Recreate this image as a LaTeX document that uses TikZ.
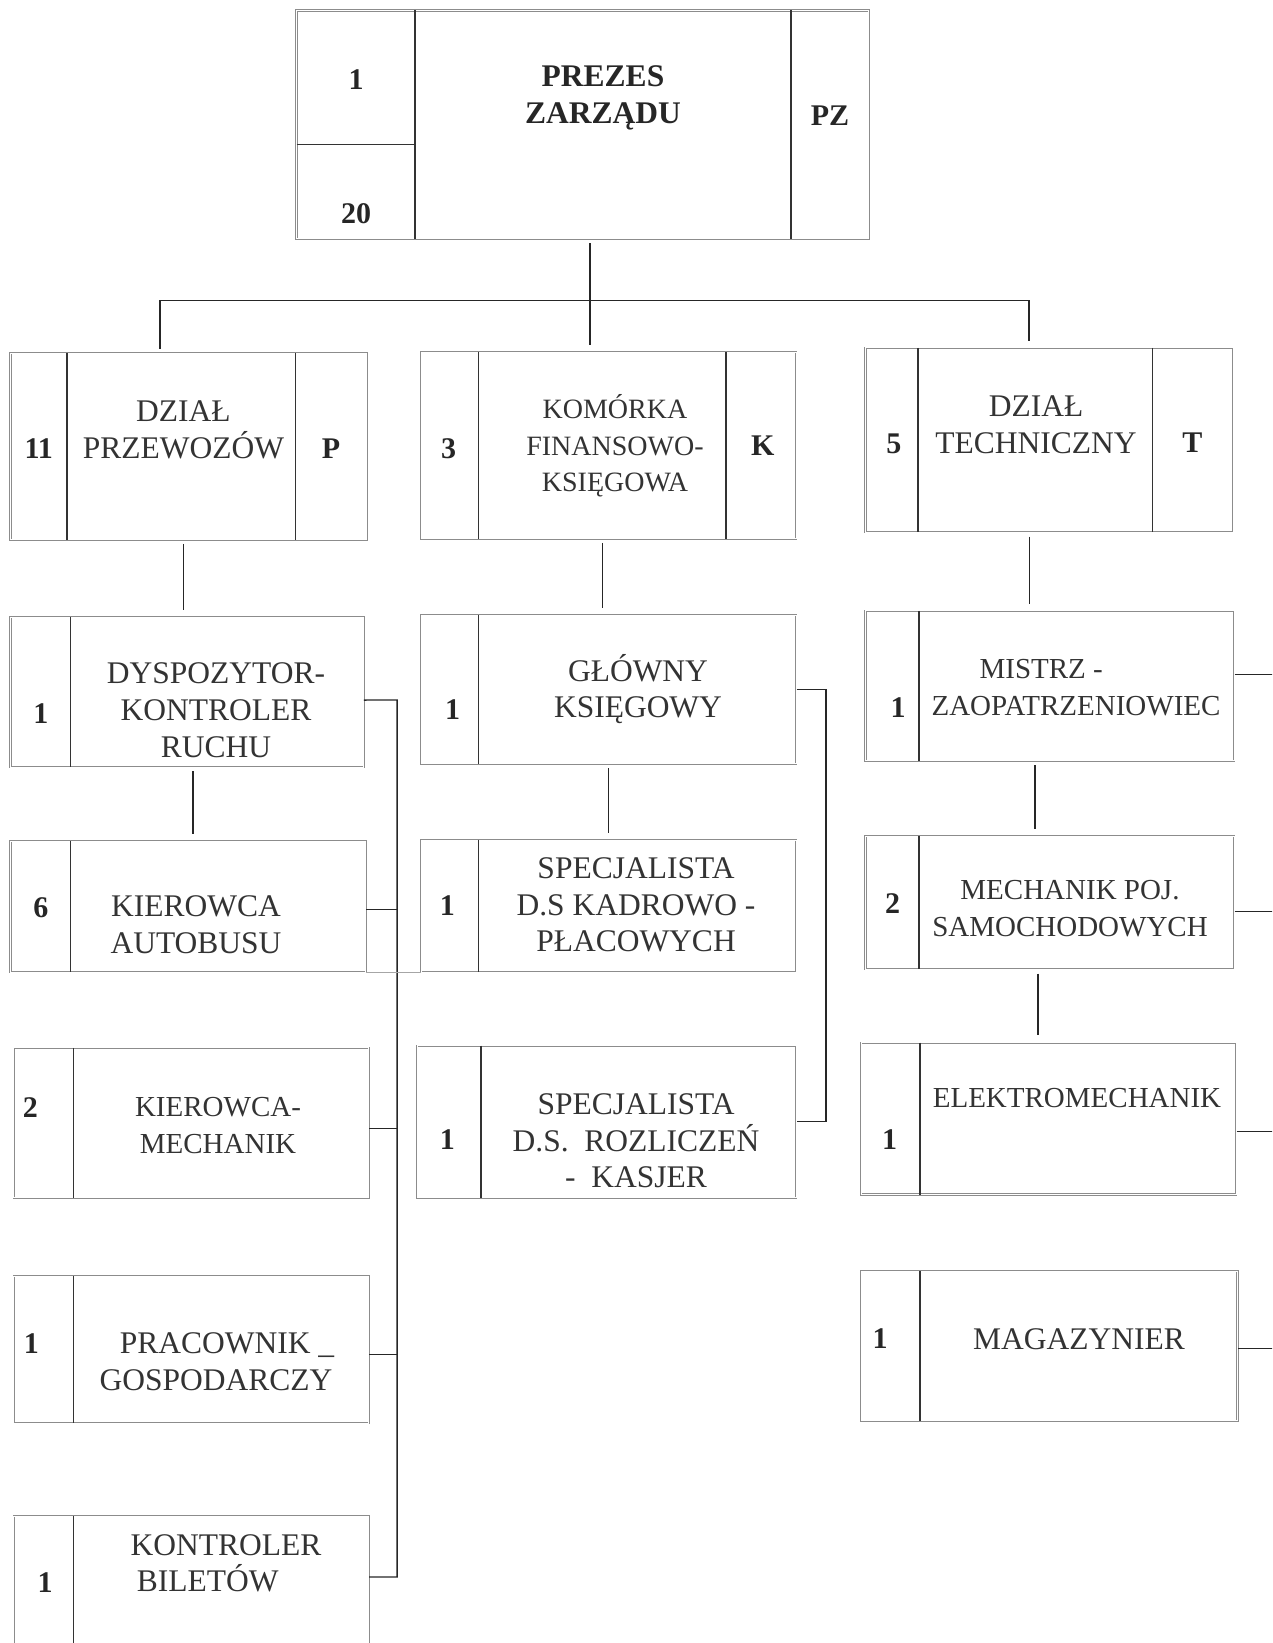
\documentclass[tikz,border=0pt]{standalone}
\usepackage{fontspec}
\setmainfont{Liberation Serif}
\usetikzlibrary{fit}

\begin{document}
\begin{tikzpicture}[x=1pt, y=-1pt,
	frame/.style={draw=black!45, double=white, double distance=0.9pt, line width=0.6pt, inner sep=0pt},
	divline/.style={draw=black!80, line width=1.3pt},
	link/.style={draw=black!85, line width=1.3pt},
	drop/.style={link, shorten <=4pt, shorten >=7pt},
	num/.style={font=\fontsize{30}{36.7}\selectfont\bfseries, text=black!85},
	txt/.style={font=\fontsize{31.5}{36.7}\selectfont, text=black!80, align=center},
	tight/.style={txt, font=\fontsize{29}{36.7}\selectfont},
	title/.style={txt, font=\fontsize{31.5}{36.7}\selectfont\bfseries, text=black!85}]

	\useasboundingbox (0,0) rectangle (1272,1643);
	\clip (0,0) rectangle (1272,1643);

	\node[frame, fit={(296.5,10.5) (868.6,238.9)}] (prezes) {};
		\draw[divline] (415,10.5) -- (415,238.9);
		\draw[divline] (791,10.5) -- (791,238.9);
		\draw[divline] (296.5,144.6) -- (415,144.6);
	\node[num] (prezes-n) at (356,80) {1};
	\node[num] (prezes-m) at (356,214) {20};
	\node[title] (prezes-t) at (603,98) {PREZES\\ZARZĄDU};
	\node[num] (prezes-c) at (830,116) {PZ};

	\node[frame, fit={(10.5,353) (366.7,539.6)}] (przew) {};
		\draw[divline] (67,353) -- (67,539.6);
		\draw[divline] (295.5,353) -- (295.5,539.6);
	\node[num] (przew-n) at (38.8,448.5) {11};
	\node[txt] (przew-t) at (183.4,430) {DZIAŁ\\PRZEWOZÓW};
	\node[num] (przew-c) at (331,448.5) {P};

	\node[frame, fit={(421.2,352) (796.3,538.6)}] (fin) {};
		\draw[divline] (478.8,352) -- (478.8,538.6);
		\draw[divline] (726.1,352) -- (726.1,538.6);
	\node[num] (fin-n) at (448.5,448.5) {3};
	\node[tight, font=\fontsize{28}{36.7}\selectfont] (fin-t) at (615,446) {KOMÓRKA\\FINANSOWO-\\KSIĘGOWA};
	\node[num] (fin-c) at (762.8,446) {K};

	\node[frame, fit={(865.5,347.9) (1233.3,532.3)}] (tech) {};
		\draw[divline] (917.9,347.9) -- (917.9,532.3);
		\draw[divline] (1152.6,347.9) -- (1152.6,532.3);
	\node[num] (tech-n) at (893.8,444.3) {5};
	\node[txt] (tech-t) at (1036,424.5) {DZIAŁ\\TECHNICZNY};
	\node[num] (tech-c) at (1192.4,442.2) {T};

	\node[frame, fit={(10.5,617.2) (363.6,767)}] (disp) {};
		\draw[divline] (70.2,617.2) -- (70.2,767);
	\node[num] (disp-n) at (40.9,713.5) {1};
	\node[txt] (disp-t) at (216,710.4) {DYSPOZYTOR-\\KONTROLER\\RUCHU};

	\node[frame, fit={(10.5,841.4) (365.7,972.4)}] (kaut) {};
		\draw[divline] (70.2,841.4) -- (70.2,972.4);
	\node[num] (kaut-n) at (40.9,907.4) {6};
	\node[txt] (kaut-t) at (196,925) {KIEROWCA\\AUTOBUSU};

	\node[frame, fit={(13.6,1047.8) (368.8,1197.6)}] (kmech) {};
		\draw[divline] (73.3,1047.8) -- (73.3,1197.6);
	\node[num] (kmech-n) at (30.4,1107.5) {2};
	\node[tight] (kmech-t) at (218,1125.8) {KIEROWCA-\\MECHANIK};

	\node[frame, fit={(13.6,1276.2) (368.8,1423)}] (pgosp) {};
		\draw[divline] (73.3,1276.2) -- (73.3,1423);
	\node[num] (pgosp-n) at (31.4,1343.3) {1};
	\node[txt] (pgosp-t) at (216,1362) {\hspace*{0.7em}PRACOWNIK \_\\GOSPODARCZY};

	\node[frame, fit={(13.6,1516.2) (368.8,1665)}] (kbil) {};
		\draw[divline] (73.3,1516.2) -- (73.3,1665);
	\node[num] (kbil-n) at (45,1582.2) {1};
	\node[txt, align=left, anchor=west] (kbil-t) at (127,1563.4) {KONTROLER\\\hspace*{0.2em}BILETÓW};

	\node[frame, fit={(421.2,615) (796.3,763.8)}] (glow) {};
		\draw[divline] (478.8,615) -- (478.8,763.8);
	\node[num] (glow-n) at (452.6,709.4) {1};
	\node[txt] (glow-t) at (638,689) {GŁÓWNY\\KSIĘGOWY};

	\node[frame, fit={(421.2,840.3) (796.3,972.4)}] (spk) {};
		\draw[divline] (478.8,840.3) -- (478.8,972.4);
	\node[num] (spk-n) at (447.4,905.3) {1};
	\node[txt] (spk-t) at (636,905) {SPECJALISTA\\D.S KADROWO -\\PŁACOWYCH};

	\node[frame, fit={(417,1045.7) (796.3,1197.6)}] (spr) {};
		\draw[divline] (481,1045.7) -- (481,1197.6);
	\node[num] (spr-n) at (447.4,1140) {1};
	\node[txt] (spr-t) at (636,1141) {SPECJALISTA\\D.S.\ \ ROZLICZEŃ\\-\ \ KASJER};

	\node[frame, fit={(865.5,610.9) (1234.3,760.7)}] (mistrz) {};
		\draw[divline] (918.9,610.9) -- (918.9,760.7);
	\node[num] (mistrz-n) at (898,707.3) {1};
	\node[tight] (mistrz-t) at (1076,687.3) {MISTRZ -\hspace*{2.4em}\\ZAOPATRZENIOWIEC};

	\node[frame, fit={(865.5,836.1) (1234.3,969.2)}] (mpoj) {};
		\draw[divline] (918.9,836.1) -- (918.9,969.2);
	\node[num] (mpoj-n) at (892.7,903.2) {2};
	\node[tight] (mpoj-t) at (1070,908.5) {MECHANIK POJ.\\SAMOCHODOWYCH};

	\node[frame, fit={(861.3,1042.6) (1236.4,1194.5)}] (elek) {};
		\draw[divline] (920,1042.6) -- (920,1194.5);
	\node[num] (elek-n) at (889.6,1140) {1};
	\node[tight] (elek-t) at (1077,1098) {ELEKTROMECHANIK};

	\node[frame, fit={(861.3,1271) (1237.5,1420.8)}] (mag) {};
		\draw[divline] (920,1271) -- (920,1420.8);
	\node[num] (mag-n) at (880,1339) {1};
	\node[txt] (mag-t) at (1079,1339) {MAGAZYNIER};

	\coordinate (hub) at (590,300.7);
	\coordinate (hubL) at (160,300.7);
	\coordinate (hubR) at (1029,300.7);
	\draw[drop] (hub |- prezes.south) -- (hub |- fin.north);
	\draw[drop] (hubL |- przew.north) -- (hubL) -- (hubR) -- (hubR |- tech.north);

	\draw[drop] ([xshift=-5pt]przew.south) -- ([xshift=-5pt]przew.south |- disp.north);
	\draw[drop] ([xshift=6pt]disp.south) -- ([xshift=6pt]disp.south |- kaut.north);
	\draw[drop] ([xshift=-6pt]fin.south) -- ([xshift=-6pt]fin.south |- glow.north);
	\draw[drop] (glow.south) -- (glow.south |- spk.north);
	\draw[drop] ([xshift=-20pt]tech.south) -- ([xshift=-20pt]tech.south |- mistrz.north);
	\draw[drop] ([xshift=-15pt]mistrz.south) -- ([xshift=-15pt]mistrz.south |- mpoj.north);
	\draw[drop] ([xshift=-12pt]mpoj.south) -- ([xshift=-12pt]mpoj.south |- elek.north);

	\coordinate (busTop) at (397.1,700);
	\coordinate (busEnd) at (397.1,1577);
	\draw[link] ([yshift=-8pt]disp.east) -- (busTop) -- (busEnd) -- (busEnd -| kbil.east);
	\foreach \b/\s in {kaut/-2.6,kmech/-5.8,pgosp/-5.2}
		\draw[link] ([yshift=\s pt]\b.east) -- ([yshift=\s pt]\b.east -| busTop);
	\draw[black!35, line width=0.8pt] (kaut.south east) -- (spk.south west);

	\draw[link] (glow.east) -- ++(29.4,0) |- (spr.east);

	\foreach \b/\s in {mistrz/11,mpoj/-9,elek/-13,mag/-2.6}
		\draw[link] ([yshift=\s pt]\b.east) -- ++(60,0);
\end{tikzpicture}
\end{document}
